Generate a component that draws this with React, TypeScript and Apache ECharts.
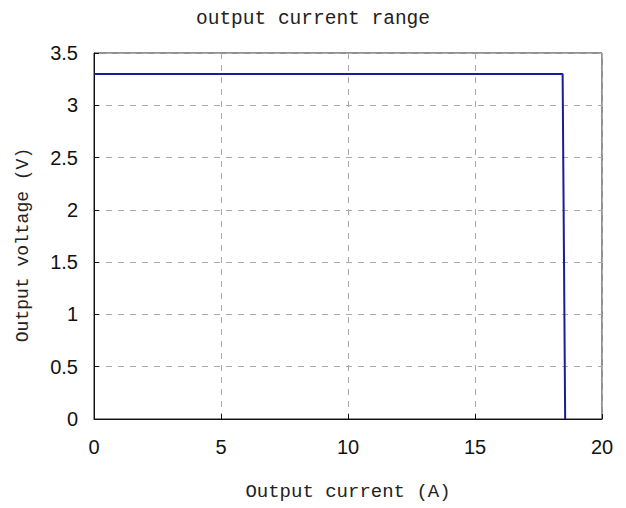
import React, { useEffect, useRef } from "react";
import * as echarts from "echarts";

const xs = [0, 18.45, 18.55];
const ys = [3.3, 3.3, 0];
const titleText = "output current range";
const xName = "Output current (A)";
const yName = "Output voltage (V)";

export default function App() {
  const ref = useRef<HTMLDivElement>(null);
  useEffect(() => {
    const chart = echarts.init(ref.current!, undefined, { renderer: "svg" });
    const mono = "'Liberation Mono', 'DejaVu Sans Mono', monospace";
    const sans = "'Liberation Sans', Arial, sans-serif";
    chart.setOption({
      animation: false,
      backgroundColor: "#fff",
      title: {
        text: titleText,
        left: "center",
        top: 4,
        textStyle: { fontFamily: mono, fontSize: 19.5, fontWeight: "normal", color: "#222" },
      },
      grid: { left: 94, right: 24, top: 53, bottom: 89, show: true, borderColor: "#222", borderWidth: 1 },
      xAxis: {
        type: "value",
        min: 0,
        max: 20,
        interval: 5,
        name: xName,
        nameLocation: "middle",
        nameGap: 63,
        nameTextStyle: { fontFamily: mono, fontSize: 19, color: "#222" },
        axisLine: { show: true, lineStyle: { color: "#111" } },
        axisTick: { inside: true, length: 5, lineStyle: { color: "#111" } },
        axisLabel: { fontFamily: sans, fontSize: 20, color: "#111", margin: 18 },
        splitLine: { show: true, lineStyle: { type: [6, 6], color: "#aaa" } },
      },
      yAxis: {
        type: "value",
        min: 0,
        max: 3.5,
        interval: 0.5,
        name: yName,
        nameLocation: "middle",
        nameGap: 62,
        nameTextStyle: { fontFamily: mono, fontSize: 18, color: "#222", padding: [0, 18, 0, 0] },
        axisLine: { show: true, lineStyle: { color: "#111" } },
        axisTick: { inside: true, length: 5, lineStyle: { color: "#111" } },
        axisLabel: { fontFamily: sans, fontSize: 20, color: "#111", margin: 16 },
        splitLine: { show: true, lineStyle: { type: [6, 6], color: "#aaa" } },
      },
      series: [
        {
          type: "line",
          data: xs.map((x, i) => [x, ys[i]]),
          showSymbol: false,
          lineStyle: { color: "#1c1c96", width: 2 },
        },
      ],
    });
    return () => chart.dispose();
  }, []);
  return <div ref={ref} style={{ position: "fixed", left: 0, top: 0, width: 626, height: 508 }} />;
}
